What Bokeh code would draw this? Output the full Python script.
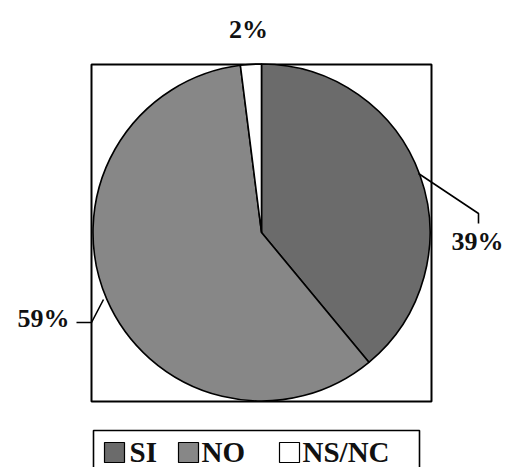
import math
from bokeh.plotting import figure
from bokeh.models import Range1d
from bokeh.core.properties import value
from bokeh.embed import file_html
from bokeh.resources import INLINE

# ---- data ----
categories = ["SI", "NO", "NS/NC"]
percentages = [39, 59, 2]
colors = ["#6b6b6b", "#878787", "#ffffff"]

# ---- figure: 1 data unit == 1 screen pixel of the reference ----
W, H = 505, 467
p = figure(width=W, height=H, output_backend="svg", toolbar_location=None,
           x_range=Range1d(0, W), y_range=Range1d(475 - H, 475),
           min_border=0, outline_line_color=None)
p.axis.visible = False
p.grid.visible = False
p.background_fill_color = "white"

def Y(ref_y):
    return 475 - ref_y

# plot area box
p.quad(left=[91], right=[431], top=[Y(64)], bottom=[Y(401)],
       fill_color=None, line_color="black", line_width=2)

# pie: start at 12 o'clock, go clockwise
cx, cy, r = 261, Y(232), 168.5
total = sum(percentages)
ends, starts = [], []
acc = 0.0
for v in percentages:
    a0 = math.pi / 2 - 2 * math.pi * acc / total
    acc += v
    a1 = math.pi / 2 - 2 * math.pi * acc / total
    starts.append(a1)
    ends.append(a0)
p.wedge(x=[cx] * 3, y=[cy] * 3, radius=r, start_angle=starts, end_angle=ends,
        fill_color=colors, line_color="black", line_width=1.6)

font = value("Liberation Serif")
# percentage labels
labels = [f"{v}%" for v in percentages]
p.text(x=[503], y=[Y(241)], text=[labels[0]], text_font=font, text_font_size="26px",
       text_font_style="bold", text_align="right", text_baseline="middle", text_color="#111111")
p.text(x=[43], y=[Y(318)], text=[labels[1]], text_font=font, text_font_size="26px",
       text_font_style="bold", text_align="center", text_baseline="middle", text_color="#111111")
p.text(x=[248], y=[Y(29)], text=[labels[2]], text_font=font, text_font_size="26px",
       text_font_style="bold", text_align="center", text_baseline="middle", text_color="#111111")

# leader lines
p.line(x=[418, 478, 478], y=[Y(173), Y(213), Y(223)], line_color="black", line_width=1.6)
p.line(x=[76, 91, 103], y=[Y(322), Y(322), Y(299)], line_color="black", line_width=1.6)

# legend
p.quad(left=[93], right=[419], top=[Y(430)], bottom=[Y(490)],
       fill_color="white", line_color="black", line_width=1.6)
sq_x = [114, 188, 289]
tx_x = [129, 201, 302]
p.rect(x=sq_x, y=[Y(452)] * 3, width=20, height=20, fill_color=colors,
       line_color="black", line_width=1.2)
p.text(x=tx_x, y=[Y(451)] * 3, text=categories, text_font=font, text_font_size="29px",
       text_font_style="bold", text_align="left", text_baseline="middle", text_color="#111111")

open("out.html", "w").write(file_html(p, INLINE))
